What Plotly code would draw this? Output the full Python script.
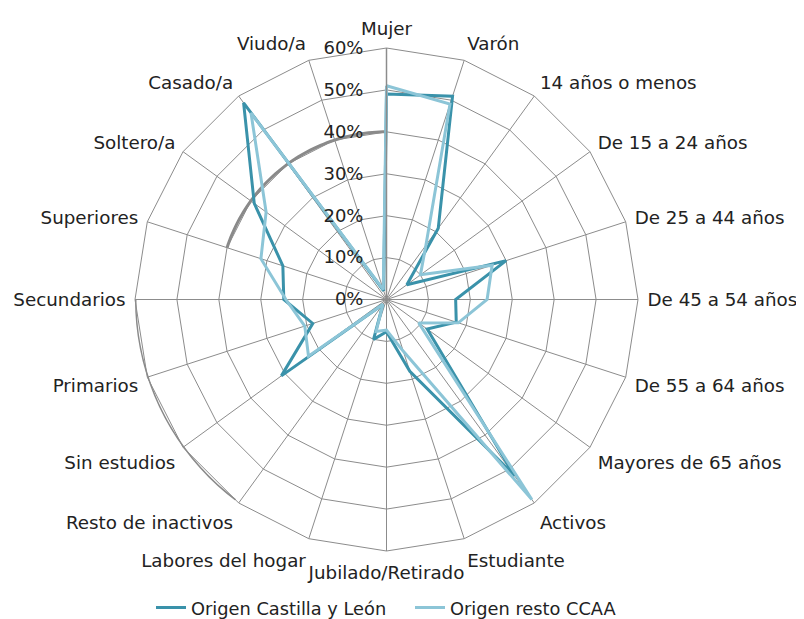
import plotly.graph_objects as go
import numpy as np

categories = ["Mujer", "Varón", "14 años o menos", "De 15 a 24 años", "De 25 a 44 años",
              "De 45 a 54 años", "De 55 a 64 años", "Mayores de 65 años", "Activos",
              "Estudiante", "Jubilado/Retirado", "Labores del hogar", "Resto de inactivos",
              "Sin estudios", "Primarios", "Secundarios", "Superiores", "Soltero/a",
              "Casado/a", "Viudo/a"]
castilla_leon = [49, 51, 21, 6, 30, 16.5, 17.5, 12, 52, 18, 7.7, 10, 1.5,
                 31, 18.5, 24.5, 26, 39, 58, 2.2]
resto_ccaa = [51, 49, 16, 10, 26.5, 24, 18, 9.5, 59, 13, 7.3, 8, 1.5,
              23, 20.5, 24, 31.5, 35.5, 55, 2.5]
radial_ticks = [0, 10, 20, 30, 40, 50, 60]
radial_labels = ["0%", "10%", "20%", "30%", "40%", "50%", "60%"]
series_names = ["Origen Castilla y León", "Origen resto CCAA"]

DARK = "#3a92aa"
LIGHT = "#8cc5d7"
GRID = "#8c8c8c"
FONT = "DejaVu Sans"
W, H = 804, 619
MB = 30
PH = H - MB
OFF = 8  # page body margin offset
LABEL_PAD = 9

fig = go.Figure()

# decorative grey arcs seen in the original picture (background artefact)
arc1 = np.linspace(288, 360, 60)
arc2 = np.linspace(217, 270, 60)
fig.add_trace(go.Scatterpolar(r=[40] * len(arc1), theta=arc1, mode="lines",
                              line=dict(color="#8a8a8a", width=3), showlegend=False,
                              hoverinfo="skip", subplot="polar"))
fig.add_trace(go.Scatterpolar(r=[60] * len(arc2), theta=arc2, mode="lines",
                              line=dict(color="#8a8a8a", width=3), showlegend=False,
                              hoverinfo="skip", subplot="polar"))

for vals, name, col in [(castilla_leon, series_names[0], DARK), (resto_ccaa, series_names[1], LIGHT)]:
    fig.add_trace(go.Scatterpolar(
        r=vals + [vals[0]], theta=categories + [categories[0]], mode="lines",
        name=name, line=dict(color=col, width=3), subplot="polar2"))

# invisible carrier for the category labels, drawn slightly further out
fig.add_trace(go.Scatterpolar(r=castilla_leon, theta=categories, mode="lines",
                              line=dict(width=0), opacity=0, showlegend=False,
                              hoverinfo="skip", subplot="polar3"))

def domain(pad=0):
    x0, x1 = 135 - OFF - pad, 638 - OFF + pad
    y0, y1 = 48 - OFF - pad, 551 - OFF + pad
    return dict(x=[x0 / W, x1 / W], y=[(PH - y1) / PH, (PH - y0) / PH])

fig.update_layout(
    width=W, height=H,
    margin=dict(l=0, r=0, t=0, b=MB),
    paper_bgcolor="white",
    font=dict(family=FONT, size=17.5, color="#222"),
    polar=dict(
        domain=domain(), bgcolor="rgba(0,0,0,0)",
        radialaxis=dict(range=[0, 60], visible=False),
        angularaxis=dict(visible=False, direction="clockwise", rotation=90),
    ),
    polar2=dict(
        domain=domain(), bgcolor="rgba(0,0,0,0)", gridshape="linear",
        radialaxis=dict(range=[0, 60], tickmode="array", tickvals=radial_ticks,
                        ticktext=radial_labels,
                        angle=90, side="counterclockwise", tickangle=90, showline=True,
                        linecolor=GRID, linewidth=1.5, gridcolor=GRID, gridwidth=1,
                        ticks="outside", ticklen=16, tickcolor="rgba(0,0,0,0)",
                        tickfont=dict(size=18, family=FONT, color="#222")),
        angularaxis=dict(direction="clockwise", rotation=90, showline=True,
                         linecolor=GRID, linewidth=1, gridcolor=GRID, gridwidth=1,
                         ticks="", showticklabels=False),
    ),
    polar3=dict(
        domain=domain(LABEL_PAD), bgcolor="rgba(0,0,0,0)", gridshape="linear",
        radialaxis=dict(range=[0, 60], visible=False),
        angularaxis=dict(direction="clockwise", rotation=90, showline=False,
                         showgrid=False, ticks="",
                         tickfont=dict(size=18.3, family=FONT, color="#222")),
    ),
    legend=dict(orientation="h", x=(157 - OFF - 6) / W, xanchor="left",
                y=(PH - (608 - OFF)) / PH, yanchor="middle",
                font=dict(size=17.8, family=FONT, color="#222"), itemwidth=30,
                entrywidth=214, entrywidthmode="pixels"),
    showlegend=True,
)

fig.write_html("out.html")
